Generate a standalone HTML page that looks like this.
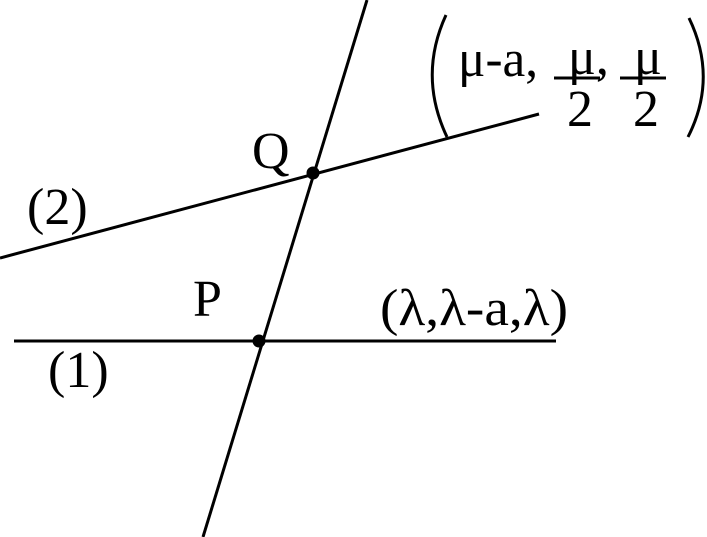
<!DOCTYPE html>
<html><head><meta charset="utf-8"><style>
html,body{margin:0;padding:0;background:#fff;}
svg{display:block;}
text{font-family:"Liberation Serif",serif;fill:#000;}
</style></head><body>
<svg width="707" height="537" viewBox="0 0 707 537" xmlns="http://www.w3.org/2000/svg">
<g stroke="#000" stroke-width="3" fill="none" stroke-linecap="butt">
<line x1="367" y1="0" x2="203" y2="537"/>
<line x1="0" y1="258" x2="539" y2="114"/>
<line x1="14" y1="341" x2="556" y2="341"/>
<path d="M446 15 Q418 76 447 137"/>
<path d="M689 18 Q718 78 688 137"/>
<line x1="554" y1="78" x2="600" y2="78"/>
<line x1="620" y1="78" x2="666" y2="78"/>
</g>
<circle cx="313" cy="173" r="6.5" fill="#000"/>
<circle cx="259" cy="341" r="6.5" fill="#000"/>
<g font-size="52">
<text x="458" y="76" textLength="80" lengthAdjust="spacingAndGlyphs">μ-a,</text>
<text x="568" y="74">μ,</text>
<text x="634" y="74">μ</text>
<text x="567" y="126">2</text>
<text x="633" y="126">2</text>
<text x="252" y="168">Q</text>
<text x="27" y="224">(2)</text>
<text x="193" y="316">P</text>
<text x="48" y="387">(1)</text>
<text x="380" y="325" textLength="188" lengthAdjust="spacingAndGlyphs">(λ,λ-a,λ)</text>
</g>
</svg>
</body></html>
